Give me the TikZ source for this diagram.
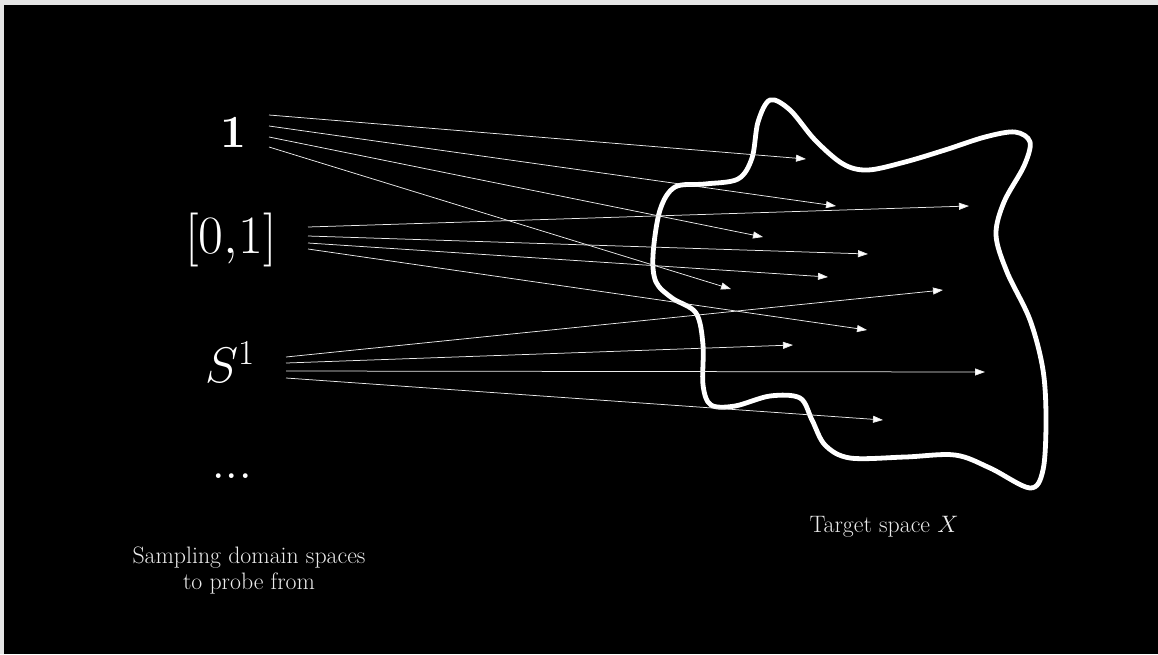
\RequirePackage{fix-cm}
\documentclass[tikz,border=0pt]{standalone}
\usetikzlibrary{arrows.meta}
\begin{document}
\begin{tikzpicture}[x=1pt,y=-1pt,
  lbl/.style={text=white, inner sep=0pt},
  captxt/.style={text=white!92!black, inner sep=0pt, font=\fontsize{23.8}{26}\selectfont},
  arr/.style={draw=white!92!black, line width=0.75pt, -{Triangle[length=10pt,width=7pt,fill=white]}},
  blob/.style={draw=white, line width=4.8pt, line join=round}]
\useasboundingbox (0,0) rectangle (1158,654);
\fill[white!90!black] (0,0) rectangle (1158,654);
\fill[black] (4,5) rectangle (1158,654);

% labels
\node[lbl, font=\fontsize{46}{50}\selectfont] (one) at (233,133) {$\mathbf{1}$};
\node[lbl, font=\fontsize{54}{60}\selectfont] (int) at (231,240) {$[0{,}1]$};
\node[lbl, font=\fontsize{50}{56}\selectfont] (circ) at (230,362) {$S^1$};
\node[lbl, font=\fontsize{58}{64}\selectfont] (dots) at (232,476) {.\kern-1.2pt.\kern-1.2pt.};
\node[captxt, align=center] (dom) at (249,570) {Sampling domain spaces\\to probe from};
\node[captxt] (tgt) at (884,527) {Target space $X$};

% target blob
\draw[blob] plot[smooth cycle, tension=0.55] coordinates {
 (770,100) (758,122) (752,158) (738,179) (705,184) (675,187) (660,210)
 (653,255) (656,282) (672,298) (696,313) (703,345) (703,385) (711,405)
 (735,406) (770,396) (800,398) (812,420) (825,445) (850,458) (905,457)
 (955,455) (990,468) (1030,488) (1043,470) (1046,420) (1043,370) (1030,320)
 (1007,272) (996,235) (1004,202) (1024,166) (1030,142) (1015,132) (985,137)
 (945,150) (905,162) (868,170) (843,164) (815,140) (790,110)};

% start points
\coordinate (o1) at (269,115);
\coordinate (o2) at (269,126);
\coordinate (o3) at (269,137);
\coordinate (o4) at (269,147);
\coordinate (i1) at (308,227);
\coordinate (i2) at (308,236);
\coordinate (i3) at (308,243);
\coordinate (i4) at (308,249);
\coordinate (c1) at (286,357);
\coordinate (c2) at (286,363);
\coordinate (c3) at (286,371);
\coordinate (c4) at (286,378);
% end points
\coordinate (to1) at (806,159);
\coordinate (to2) at (836,206);
\coordinate (to3) at (763,237);
\coordinate (to4) at (731,289);
\coordinate (ti1) at (969,206);
\coordinate (ti2) at (868,254);
\coordinate (ti3) at (828,277);
\coordinate (ti4) at (867,330);
\coordinate (tc1) at (943,290);
\coordinate (tc2) at (793,345);
\coordinate (tc3) at (985,372);
\coordinate (tc4) at (883,420);

\foreach \s/\t in {o1/to1,o2/to2,o3/to3,o4/to4,i1/ti1,i2/ti2,i3/ti3,i4/ti4,c1/tc1,c2/tc2,c3/tc3,c4/tc4}
  \draw[arr] (\s) -- (\t);
\end{tikzpicture}
\end{document}
